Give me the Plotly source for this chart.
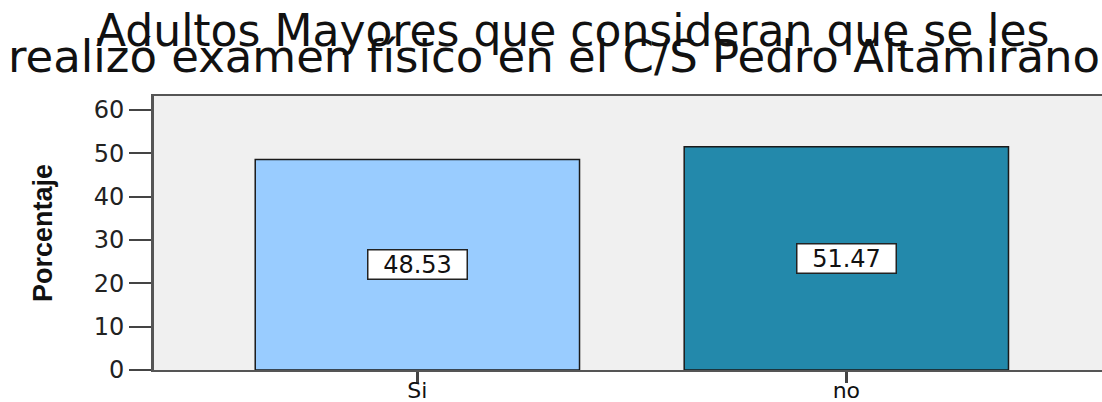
import plotly.graph_objects as go

# datos del gráfico
categorias = ["Si", "no"]
porcentajes = [48.53, 51.47]
colores = ["#99ccff", "#2389ab"]
y_ticks = [0, 10, 20, 30, 40, 50, 60]
titulo_1 = "Adultos Mayores que consideran que se les"
titulo_2 = "realizó examen físico en el C/S Pedro Altamirano"

fig = go.Figure()
fig.add_trace(go.Bar(
    x=categorias, y=porcentajes, width=0.756,
    marker=dict(color=colores, line=dict(color="#1a1a1a", width=1.5)),
    hoverinfo="x+y", showlegend=False
))

# etiquetas de valor en caja blanca, a la mitad de cada barra
for c, v in zip(categorias, porcentajes):
    fig.add_annotation(
        x=c, y=v / 2, text=f"{v:.2f}", showarrow=False,
        font=dict(family="DejaVu Sans", size=24, color="#111"),
        bgcolor="white", bordercolor="#222", borderwidth=1.5, borderpad=1,
        width=96, height=26
    )

# título en dos líneas
fig.add_annotation(text=titulo_1, xref="paper", yref="paper", x=0.441, y=1.238,
                   showarrow=False, xanchor="center", yanchor="middle",
                   font=dict(family="DejaVu Sans", size=44, color="#111"))
fig.add_annotation(text=titulo_2, xref="paper", yref="paper", x=0.422, y=1.145,
                   showarrow=False, xanchor="center", yanchor="middle",
                   font=dict(family="DejaVu Sans", size=45, color="#111"))

# título del eje Y
fig.add_annotation(text="<b>Porcentaje</b>", xref="paper", yref="paper", x=-0.117, y=0.5,
                   showarrow=False, textangle=-90, xanchor="center", yanchor="middle",
                   font=dict(family="Liberation Sans Narrow, Liberation Sans", size=27, color="#111"))

fig.update_layout(
    width=1102, height=402,
    margin=dict(l=154, r=0, t=96, b=32),
    plot_bgcolor="#f0f0f0", paper_bgcolor="white",
)
fig.update_xaxes(
    range=[-0.614, 1.596], showline=True, linecolor="#555", linewidth=2, mirror=True,
    ticks="outside", ticklen=11, tickwidth=3, tickcolor="#444", automargin=False,
    ticklabelstandoff=-11,
    tickfont=dict(family="DejaVu Sans", size=22, color="#111"), showgrid=False
)
fig.update_yaxes(
    range=[0, 63.2], tickvals=y_ticks, showline=True, linecolor="#555", linewidth=3,
    ticks="outside", ticklen=22, tickwidth=2, tickcolor="#444", automargin=False,
    tickfont=dict(family="DejaVu Sans", size=24, color="#222"), showgrid=False, zeroline=False
)

# sin margen en el body para que la figura ocupe la ventana exacta
fig.write_html("out.html", config={"displayModeBar": False},
               post_script="document.body.style.margin='0';document.body.style.overflow='hidden';")
